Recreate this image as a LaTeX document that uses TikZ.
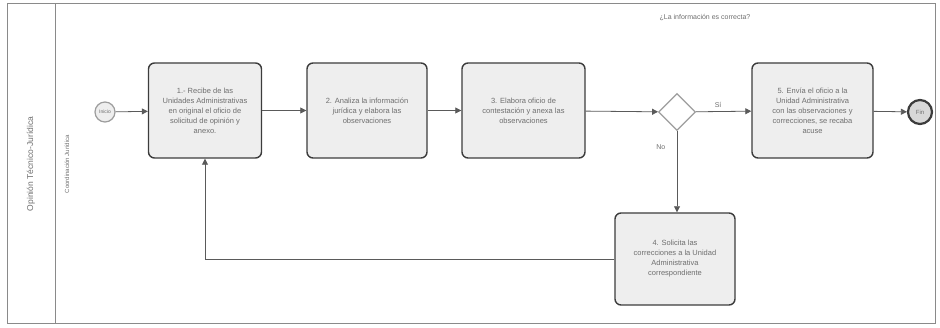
\documentclass[tikz,border=0pt]{standalone}
\usepackage{fontspec}
\setmainfont{Liberation Sans}
\usetikzlibrary{shapes.geometric,arrows.meta}
\definecolor{boxfill}{RGB}{238,238,238}
\definecolor{txt}{RGB}{110,110,110}
\definecolor{edge}{RGB}{60,60,60}
\definecolor{flow}{RGB}{90,90,90}
\tikzset{
  taskbox/.style={draw=edge, line width=1.4pt, fill=boxfill, rounded corners=6pt,
    text=txt, align=center, font=\fontsize{7.5}{10}\selectfont, inner sep=3pt},
  flowline/.style={draw=flow, line width=0.8pt, -{Triangle[length=6pt,width=6pt]}},
  lbl/.style={text=txt, font=\fontsize{7}{9}\selectfont},
}
\begin{document}
\begin{tikzpicture}[x=1pt,y=-1pt]
\useasboundingbox (0,0) rectangle (940,328);
% pool and lane
\draw[draw=edge!60, line width=1pt] (7,4) rectangle (935,324);
\draw[draw=edge!60, line width=1pt] (55,4) -- (55,324);
\node[lbl, rotate=90, font=\fontsize{8.5}{10}\selectfont] (pool) at (31,164) {Opinión Técnico-Jurídica};
\node[lbl, rotate=90, font=\fontsize{6}{8}\selectfont] (lane) at (67,164) {Coordinación Jurídica};
% events
\node[circle, draw=edge!50, line width=1.2pt, fill=boxfill, minimum size=20pt, inner sep=0pt,
  text=txt, font=\fontsize{5}{6}\selectfont] (ini) at (105,112) {Inicio};
\node[circle, draw=edge, line width=2.2pt, fill=boxfill!80!gray, minimum size=24pt, inner sep=0pt,
  text=txt, font=\fontsize{6}{7}\selectfont] (fin) at (920,112) {Fin};
% tasks
\node[taskbox, minimum width=113pt, minimum height=95pt] (t1) at (205,110.5)
  {1.- Recibe de las\\Unidades Administrativas\\en original el oficio de\\solicitud de opinión y\\anexo.};
\node[taskbox, minimum width=120pt, minimum height=95pt] (t2) at (367,110.5)
  {2. Analiza la información\\jurídica y elabora las\\observaciones};
\node[taskbox, minimum width=123pt, minimum height=95pt] (t3) at (523.5,110.5)
  {3. Elabora oficio de\\contestación y anexa las\\observaciones};
\node[taskbox, minimum width=121pt, minimum height=95pt] (t5) at (812.5,110.5)
  {5. Envía el oficio a la\\Unidad Administrativa\\con las observaciones y\\correcciones, se recaba\\acuse};
\node[taskbox, minimum width=120pt, minimum height=92pt] (t4) at (675,259)
  {4. Solicita las\\correcciones a la Unidad\\Administrativa\\correspondiente};
% gateway
\node[diamond, draw=edge!50, line width=1.2pt, fill=white, minimum size=37pt, inner sep=0pt] (gw) at (677,112) {};
\node[lbl] (q) at (705,18) {¿La información es correcta?};
% flows
\draw[flowline] (ini) -- (t1);
\draw[flowline] (t1) -- (t2);
\draw[flowline] (t2) -- (t3);
\draw[flowline] (t3) -- (gw);
\draw[flowline] (gw) -- node[lbl, above, pos=0.4] (si) {Sí} (t5);
\draw[flowline] (t5) -- (fin);
\draw[flowline] (gw) -- node[lbl, left, pos=0.2, xshift=-8pt] (no) {No} (gw |- t4.north);
\draw[flowline] (t4.west) -| (t1.south);
\end{tikzpicture}
\end{document}
